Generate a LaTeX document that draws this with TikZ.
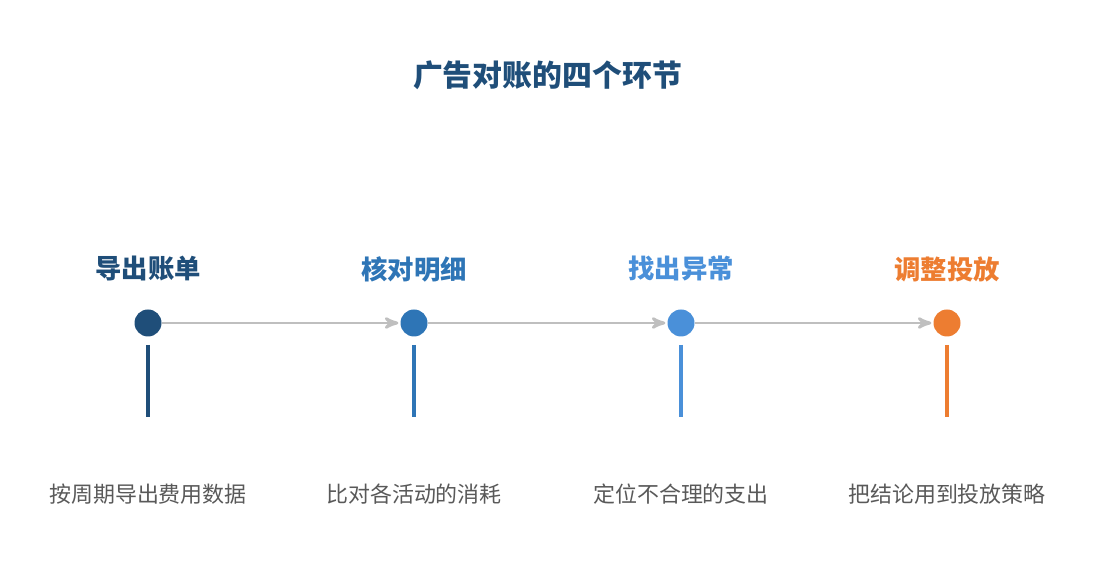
\documentclass[tikz,border=0pt]{standalone}
\usepackage{fontspec}
\newfontfamily\cjk{Noto Sans CJK SC}
\usetikzlibrary{arrows, positioning}
\definecolor{stepA}{HTML}{1F4E79}
\definecolor{stepB}{HTML}{2E75B6}
\definecolor{stepC}{HTML}{4A90D9}
\definecolor{stepD}{HTML}{ED7D31}
\definecolor{linkgray}{HTML}{BFBFBF}
\definecolor{descgray}{HTML}{595959}
\begin{document}
\begin{tikzpicture}[>=stealth', font=\cjk]
    \tikzstyle{dot}=[circle, inner sep=0pt, minimum size=0.54cm]
    \tikzstyle{stage}=[font=\cjk\bfseries\fontsize{15}{18}\selectfont]
    \tikzstyle{desc}=[font=\cjk\fontsize{12.5}{15}\selectfont, text=descgray]
    \tikzstyle{link}=[->, draw=linkgray, line width=1.6pt, shorten >=1pt]

\useasboundingbox (0,0) rectangle (21.9,11.7);

\node[text=stepA, font=\cjk\bfseries\fontsize{17}{20}\selectfont] (title) at (10.95, 10.2) {广告对账的四个环节};

\node[dot, fill=stepA] (d1) at (2.96, 5.24)  {};
\node[dot, fill=stepB] (d2) at (8.28, 5.24)  {};
\node[dot, fill=stepC] (d3) at (13.62, 5.24) {};
\node[dot, fill=stepD] (d4) at (18.94, 5.24) {};

\node[stage, text=stepA] (s1) at (2.96, 6.32)  {导出账单};
\node[stage, text=stepB] (s2) at (8.28, 6.32)  {核对明细};
\node[stage, text=stepC] (s3) at (13.62, 6.32) {找出异常};
\node[stage, text=stepD] (s4) at (18.94, 6.32) {调整投放};

\node[desc] (t1) at (2.96, 1.82)  {按周期导出费用数据};
\node[desc] (t2) at (8.28, 1.82)  {比对各活动的消耗};
\node[desc] (t3) at (13.62, 1.82) {定位不合理的支出};
\node[desc] (t4) at (18.94, 1.82) {把结论用到投放策略};

\draw[link] (d1) -- (d2);
\draw[link] (d2) -- (d3);
\draw[link] (d3) -- (d4);

\draw[stepA, line width=2.2pt] (2.96, 4.8) -- (2.96, 3.36);
\draw[stepB, line width=2.2pt] (8.28, 4.8) -- (8.28, 3.36);
\draw[stepC, line width=2.2pt] (13.62, 4.8) -- (13.62, 3.36);
\draw[stepD, line width=2.2pt] (18.94, 4.8) -- (18.94, 3.36);
\end{tikzpicture}
\end{document}
